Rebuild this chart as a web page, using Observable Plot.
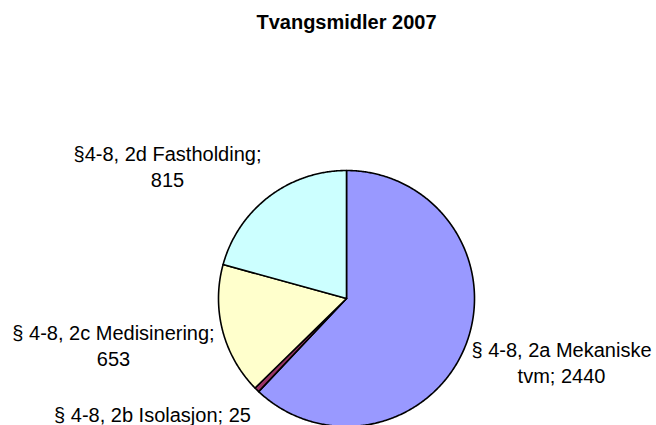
<!DOCTYPE html>
<html>
<head>
<meta charset="utf-8">
<script src="https://cdn.jsdelivr.net/npm/d3@7"></script>
<script src="https://cdn.jsdelivr.net/npm/@observablehq/plot@0.6"></script>
<style>
  html, body { margin: 0; padding: 0; background: #fff; }
  #chart { width: 656px; height: 425px; overflow: hidden; }
</style>
</head>
<body>
<div id="chart"></div>
<script>
// ---- data ----
const title = "Tvangsmidler 2007";
const categories = ["§ 4-8, 2a Mekaniske tvm", "§ 4-8, 2b Isolasjon", "§ 4-8, 2c Medisinering", "§4-8, 2d Fastholding"];
const values = [2440, 25, 653, 815];
const colors = ["#9999FF", "#993366", "#FFFFCC", "#CCFFFF"];
const labels = ["§ 4-8, 2a Mekaniske\ntvm; 2440", "§ 4-8, 2b Isolasjon; 25", "§ 4-8, 2c Medisinering;\n653", "§4-8, 2d Fastholding;\n815"];

// ---- layout (pixels) ----
const W = 656, H = 425;
const cx = 346, cy = 298, R = 128;
const labelAnchors = [[561, 338], [152, 403], [113, 321], [167, 142]]; // centre x, cap top y
const titleAnchor = [346, 14];

// pie geometry from data
const arcs = d3.pie().sort(null).startAngle(0).endAngle(2 * Math.PI)(values);
const slicePts = [];
arcs.forEach((a, i) => {
  slicePts.push({k: i, x: 0, y: 0});
  const n = Math.max(2, Math.ceil((a.endAngle - a.startAngle) / (Math.PI / 360)));
  for (let j = 0; j <= n; j++) {
    const t = a.startAngle + (a.endAngle - a.startAngle) * j / n;
    slicePts.push({k: i, x: R * Math.sin(t), y: R * Math.cos(t)});
  }
  slicePts.push({k: i, x: 0, y: 0});
});

const labelData = labels.map((t, i) => ({
  text: t,
  x: labelAnchors[i][0] - cx,
  y: cy - labelAnchors[i][1]
}));

const chart = Plot.plot({
  width: W,
  height: H,
  margin: 0,
  style: {fontFamily: "'Liberation Sans', Arial, sans-serif", background: "#fff"},
  x: {domain: [-cx, W - cx], axis: null},
  y: {domain: [-(H - cy), cy], axis: null},
  color: {domain: d3.range(values.length), range: colors},
  marks: [
    Plot.line(slicePts, {
      x: "x", y: "y", z: "k",
      fill: d => colors[d.k],
      stroke: "black", strokeWidth: 1.6, strokeLinejoin: "round"
    }),
    Plot.text(labelData, {
      x: "x", y: "y", text: "text",
      fontSize: 20, lineAnchor: "top", lineHeight: 1.3, fill: "#000"
    }),
    Plot.text([title], {
      x: () => titleAnchor[0] - cx, y: () => cy - titleAnchor[1], text: d => d,
      fontSize: 20, fontWeight: "bold", lineAnchor: "top", fill: "#000"
    })
  ]
});
document.getElementById("chart").appendChild(chart);
</script>
</body>
</html>
